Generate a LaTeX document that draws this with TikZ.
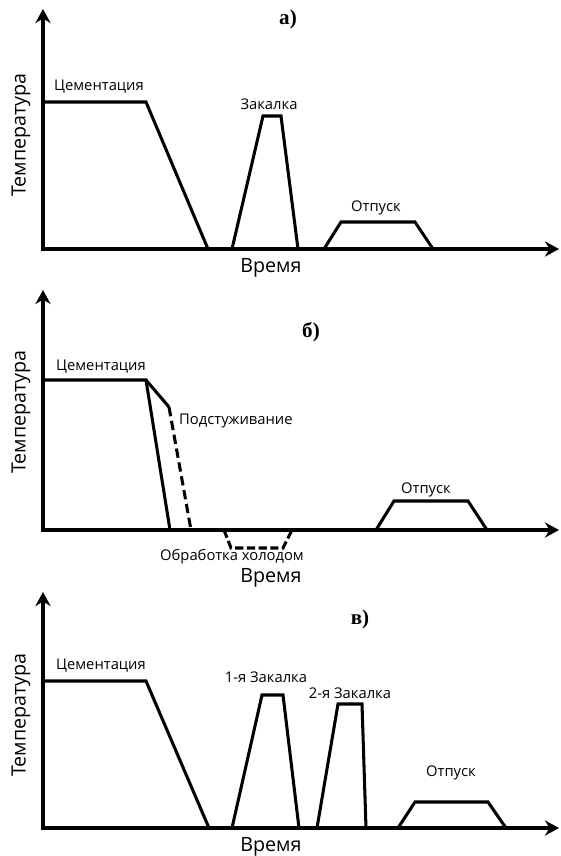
\documentclass[tikz,border=0pt]{standalone}
\usepackage{fontspec}
\setmainfont{Open Sans}
\newfontfamily\ttlfont{Liberation Serif}
\usetikzlibrary{arrows.meta,positioning}

\begin{document}
\begin{tikzpicture}[x=0.03cm, y=-0.03cm,
  axes/.style={line width=2.6pt, line join=miter, {Stealth[length=12pt, width=13pt]}-{Stealth[length=12pt, width=13pt]}},
  curve/.style={line width=2.6pt, line join=miter},
  dcurve/.style={curve, dash pattern=on 8pt off 4pt},
  lab/.style={font=\fontsize{12.6}{14}\selectfont, inner sep=0pt},
  axlab/.style={font=\fontsize{16.8}{20}\selectfont, inner sep=0pt},
  ttl/.style={font=\ttlfont\bfseries\fontsize{18}{20}\selectfont, inner sep=0pt}
]
\useasboundingbox (0,0) rectangle (561,856);
% axes of the three panels
\foreach \pn/\yt/\yo/\yv/\yl in {a/9/249/268/135, b/290/530/578/412, c/592/828/847/715} {
  \draw[axes] (43,\yt) -- (43,\yo) -- (559,\yo);
  \node[axlab, rotate=90] (temp\pn) at (21,\yl) {Температура};
  \node[axlab] (time\pn) at (271,\yv) {Время};
}

% a)
\node[ttl] (ttla) at (288,19) {а)};
\draw[curve] (43,102) -- (146,102) -- (208,249);
\draw[curve] (232,249) -- (263,116) -- (281,116) -- (298,249);
\draw[curve] (324,249) -- (341,222) -- (415,222) -- (433,249);
\node[lab] (cema) at (99,87) {Цементация};
\node[lab] (zaka) at (269,104) {Закалка};
\node[lab] (otpa) at (376,208) {Отпуск};

% б)
\node[ttl] (ttlb) at (311,332) {б)};
\draw[curve] (43,380) -- (146,380) -- (170,530);
\draw[curve] (146,380) -- (169,407);
\draw[dcurve] (169,407) -- (191,530);
\draw[curve, dash pattern=on 7pt off 3pt] (224,530) -- (231,548) -- (283,548) -- (292,530);
\draw[curve] (376,530) -- (394,501) -- (468,501) -- (487,530);
\node[lab] (cemb) at (101,367) {Цементация};
\node[lab, anchor=west] (podb) at (179,421) {Подстуживание};
\node[lab] (colb) at (232,557) {Обработка холодом};
\node[lab] (otpb) at (426,490) {Отпуск};

% в)
\node[ttl] (ttlc) at (360,619) {в)};
\draw[curve] (43,681) -- (146,681) -- (209,828);
\draw[curve] (232,828) -- (262,695) -- (283,695) -- (299,828);
\draw[curve] (317,828) -- (338,704) -- (362,704) -- (366,828);
\draw[curve] (398,828) -- (415,802) -- (488,802) -- (506,828);
\node[lab] (cemc) at (101,666) {Цементация};
\node[lab] (zak1c) at (266,677) {1-я Закалка};
\node[lab] (zak2c) at (350,693) {2-я Закалка};
\node[lab] (otpc) at (451,773) {Отпуск};
\end{tikzpicture}
\end{document}
